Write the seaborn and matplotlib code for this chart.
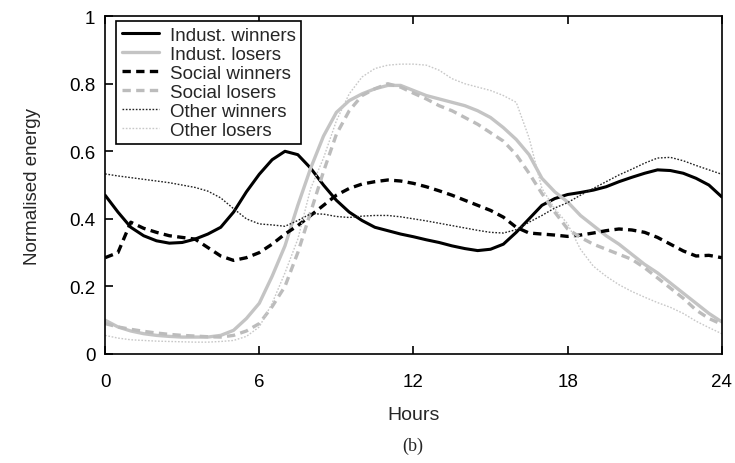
import numpy as np
import pandas as pd
import matplotlib
matplotlib.use("Agg")
import matplotlib.pyplot as plt
import seaborn as sns

# Half-hourly time axis (hours of the day)
hours = [i * 0.5 for i in range(49)]

indust_winners = [0.47, 0.42, 0.375, 0.35, 0.335, 0.328, 0.33, 0.34, 0.355, 0.375,
                  0.42, 0.48, 0.532, 0.575, 0.60, 0.59, 0.55, 0.50, 0.455, 0.42,
                  0.395, 0.375, 0.365, 0.355, 0.347, 0.338, 0.33, 0.32, 0.312, 0.306,
                  0.31, 0.325, 0.36, 0.40, 0.44, 0.46, 0.472, 0.478, 0.485, 0.495,
                  0.51, 0.523, 0.535, 0.545, 0.543, 0.535, 0.52, 0.50, 0.465]

indust_losers = [0.10, 0.08, 0.068, 0.06, 0.055, 0.052, 0.05, 0.05, 0.05, 0.055,
                 0.07, 0.105, 0.15, 0.23, 0.32, 0.44, 0.55, 0.645, 0.715, 0.75,
                 0.77, 0.785, 0.795, 0.795, 0.78, 0.765, 0.755, 0.745, 0.735, 0.72,
                 0.70, 0.67, 0.635, 0.59, 0.52, 0.48, 0.45, 0.41, 0.38, 0.35,
                 0.325, 0.295, 0.265, 0.24, 0.21, 0.18, 0.15, 0.12, 0.095]

social_winners = [0.285, 0.30, 0.39, 0.372, 0.36, 0.35, 0.345, 0.34, 0.315, 0.29,
                  0.277, 0.285, 0.30, 0.325, 0.355, 0.38, 0.41, 0.44, 0.47, 0.49,
                  0.503, 0.51, 0.515, 0.512, 0.505, 0.495, 0.483, 0.47, 0.455, 0.44,
                  0.425, 0.405, 0.375, 0.358, 0.355, 0.352, 0.348, 0.352, 0.358, 0.365,
                  0.37, 0.367, 0.36, 0.345, 0.325, 0.305, 0.29, 0.292, 0.285]

social_losers = [0.09, 0.08, 0.073, 0.067, 0.062, 0.058, 0.055, 0.053, 0.051, 0.05,
                 0.055, 0.068, 0.09, 0.14, 0.20, 0.30, 0.42, 0.54, 0.65, 0.72,
                 0.765, 0.785, 0.80, 0.79, 0.772, 0.755, 0.735, 0.72, 0.70, 0.68,
                 0.655, 0.63, 0.59, 0.535, 0.475, 0.42, 0.37, 0.345, 0.325, 0.31,
                 0.295, 0.28, 0.255, 0.225, 0.195, 0.165, 0.13, 0.105, 0.088]

other_winners = [0.533, 0.527, 0.522, 0.517, 0.512, 0.507, 0.50, 0.493, 0.482, 0.462,
                 0.43, 0.40, 0.385, 0.382, 0.378, 0.395, 0.415, 0.414, 0.407, 0.404,
                 0.408, 0.41, 0.41, 0.406, 0.40, 0.394, 0.387, 0.38, 0.373, 0.366,
                 0.36, 0.358, 0.368, 0.39, 0.41, 0.432, 0.448, 0.47, 0.49, 0.51,
                 0.53, 0.547, 0.565, 0.58, 0.582, 0.572, 0.558, 0.545, 0.532]

other_losers = [0.055, 0.047, 0.042, 0.04, 0.038, 0.037, 0.036, 0.035, 0.035, 0.037,
                0.04, 0.052, 0.08, 0.15, 0.24, 0.34, 0.49, 0.58, 0.69, 0.77,
                0.82, 0.845, 0.855, 0.858, 0.858, 0.855, 0.84, 0.815, 0.80, 0.79,
                0.78, 0.765, 0.745, 0.64, 0.49, 0.43, 0.385, 0.31, 0.26, 0.23,
                0.205, 0.185, 0.168, 0.152, 0.138, 0.12, 0.097, 0.078, 0.06]

series_names = ["Indust. winners", "Indust. losers", "Social winners",
                "Social losers", "Other winners", "Other losers"]
series_values = [indust_winners, indust_losers, social_winners,
                 social_losers, other_winners, other_losers]

x_ticks = [0, 6, 12, 18, 24]
y_ticks = [0, 0.2, 0.4, 0.6, 0.8, 1]
y_tick_labels = ["0", "0.2", "0.4", "0.6", "0.8", "1"]

df = pd.DataFrame({
    "Hours": np.tile(hours, len(series_names)),
    "energy": np.concatenate(series_values),
    "group": np.repeat(series_names, len(hours)),
})

sns.set_style("ticks")
plt.rcParams["font.family"] = ["Liberation Sans", "DejaVu Sans"]

styles = {
    "Indust. winners": dict(color="black", lw=2.2, ls="-"),
    "Indust. losers": dict(color="#c4c4c4", lw=2.4, ls="-"),
    "Social winners": dict(color="black", lw=2.4, ls=(0, (2.5, 1.6))),
    "Social losers": dict(color="#bcbcbc", lw=2.4, ls=(0, (2.5, 1.6))),
    "Other winners": dict(color="#222222", lw=1.0, ls=(0, (1.2, 1.2))),
    "Other losers": dict(color="#c8c8c8", lw=1.0, ls=(0, (1.2, 1.2))),
}

fig = plt.figure(figsize=(7.35, 4.64), dpi=100)
ax = fig.add_axes([0.143, 0.235, 0.839, 0.728])

for name in series_names:
    st = styles[name]
    sns.lineplot(data=df[df["group"] == name], x="Hours", y="energy", ax=ax,
                 color=st["color"], linewidth=st["lw"], linestyle=st["ls"],
                 label=name)

ax.set_xlim(0, 24)
ax.set_ylim(0, 1)
ax.set_xticks(x_ticks)
ax.set_yticks(y_ticks)
ax.set_yticklabels(y_tick_labels)
ax.tick_params(axis="both", direction="in", length=6, width=1.2,
               labelsize=13.5, colors="black", pad=7)
ax.tick_params(axis="x", top=True, pad=14)
for sp in ax.spines.values():
    sp.set_visible(True)
    sp.set_linewidth(1.2)
    sp.set_color("black")

ax.set_xlabel("Hours", fontsize=14, labelpad=11)
ax.set_ylabel("Normalised energy", fontsize=13.5, labelpad=20)

leg = ax.legend(loc="upper left", bbox_to_anchor=(0.018, 0.986),
                fontsize=13.5, frameon=True, fancybox=False,
                handlelength=2.0, handletextpad=0.55, borderpad=0.3,
                labelspacing=0.1, borderaxespad=0.0)
leg.get_frame().set_edgecolor("black")
leg.get_frame().set_linewidth(1.2)
leg.get_frame().set_alpha(1)

fig.text(0.562, 0.037, "(b)", fontsize=13, family="Liberation Serif",
         ha="center", va="center")

fig.savefig("out.png", dpi=100)
